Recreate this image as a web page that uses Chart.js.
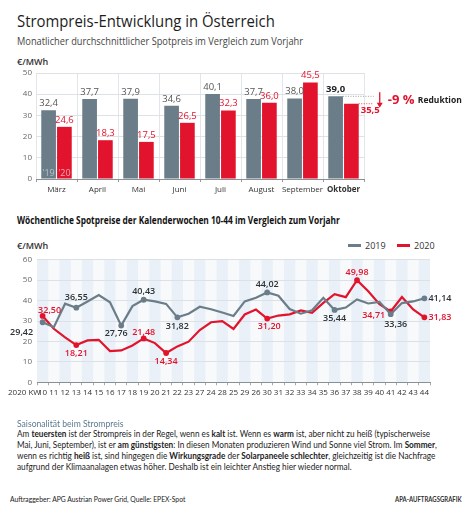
<!DOCTYPE html>
<html>
<head>
<meta charset="utf-8">
<script src="https://cdn.jsdelivr.net/npm/chart.js@4.4.0/dist/chart.umd.min.js"></script>
<style>
    body { margin: 0; background: #fff; width: 472px; height: 512px; position: relative; overflow: hidden; font-family: "Open Sans", sans-serif; color: #222; }
    .t { position: absolute; white-space: nowrap; line-height: 1; transform-origin: left center; }
    canvas { position: absolute; left: 0; }
    #bars { top: 64px; }
    #lines { top: 250px; }
    .leg { position: absolute; top: 241px; font-size: 9px; color: #333; line-height: 10px; }
    .leg i { display: inline-block; width: 13px; height: 3px; vertical-align: middle; margin-right: 4px; position: relative; top: -1px; }
    .p { position: absolute; left: 17px; font-family: Lato, sans-serif; font-size: 8.6px; line-height: 11px; color: #222; white-space: nowrap; transform-origin: left center; }
</style>
</head>
<body>

<div class="t" data-w="258" style="left:17px;top:12px;font-size:17px;color:#1d1d1d;">Strompreis-Entwicklung in Österreich</div>
<div class="t" data-w="286" style="left:17px;top:35px;font-size:11px;color:#444;">Monatlicher durchschnittlicher Spotpreis im Vergleich zum Vorjahr</div>
<div class="t" style="left:17px;top:57px;font-size:9px;font-weight:600;color:#333;">€/MWh</div>

<canvas id="bars" width="472" height="136"></canvas>

<div class="t" data-w="323" style="left:17px;top:215px;font-size:10px;font-weight:700;color:#111;">Wöchentliche Spotpreise der Kalenderwochen 10-44 im Vergleich zum Vorjahr</div>
<div class="t" style="left:17px;top:241px;font-size:9px;font-weight:600;color:#333;">€/MWh</div>
<div class="leg" style="left:348px;"><i style="background:#6b7d88"></i>2019</div>
<div class="leg" style="left:397px;"><i style="background:#e2132c"></i>2020</div>

<canvas id="lines" width="472" height="162"></canvas>
<div class="t" style="left:8px;top:388px;font-size:8px;color:#333;">2020 KW</div>

<div class="t" data-w="106" style="left:17px;top:420px;font-family:Lato,sans-serif;font-size:8.6px;color:#5b7a90;">Saisonalität beim Strompreis</div>
<div class="p" data-w="413" style="top:429px;">Am <b>teuersten</b> ist der Strompreis in der Regel, wenn es <b>kalt</b> ist. Wenn es <b>warm</b> ist, aber nicht zu heiß (typischerweise</div>
<div class="p" data-w="420" style="top:440px;">Mai, Juni, September), ist er <b>am günstigsten</b>: In diesen Monaten produzieren Wind und Sonne viel Strom. Im <b>Sommer</b>,</div>
<div class="p" data-w="418" style="top:451px;">wenn es richtig <b>heiß</b> ist, sind hingegen die <b>Wirkungsgrade</b> der <b>Solarpaneele schlechter</b>, gleichzeitig ist die Nachfrage</div>
<div class="p" data-w="335" style="top:462px;">aufgrund der Klimaanalagen etwas höher. Deshalb ist ein leichter Anstieg hier wieder normal.</div>

<div class="t" data-w="175" style="left:10px;top:496px;font-family:Lato,sans-serif;font-size:6.8px;color:#222;">Auftraggeber: APG Austrian Power Grid, Quelle: EPEX-Spot</div>
<div class="t" data-w="67" style="left:395px;top:496px;font-family:Lato,sans-serif;font-size:6.8px;font-weight:700;color:#333;">APA-AUFTRAGSGRAFIK</div>

<script>
// ---------------------------------------------------------------
// Daten
// ---------------------------------------------------------------
const monate = ["März", "April", "Mai", "Juni", "Juli", "August", "September", "Oktober"];
const monat2019 = [32.4, 37.7, 37.9, 34.6, 40.1, 37.7, 38.0, 39.0];
const monat2020 = [24.6, 18.3, 17.5, 26.5, 32.3, 36.0, 45.5, 35.5];
const monatTicks = [0, 10, 20, 30, 40, 50];

// KW-Beschriftung wie im Original (Reihenfolge 27/24/28/25/29/26 so übernommen)
const wochen = ["10", "11", "12", "13", "14", "15", "16", "17", "18", "19", "20", "21", "22", "23",
    "27", "24", "28", "25", "29", "26", "30", "31", "32", "33", "34", "35", "36", "37", "38", "39",
    "40", "41", "42", "43", "44"];
const spot2019 = [29.42, 27.0, 38.5, 36.55, 39.6, 42.7, 39.2, 27.76, 37.3, 40.43, 39.6, 38.4, 31.82, 33.6,
    37.0, 35.8, 34.2, 32.5, 39.6, 41.4, 44.02, 42.4, 35.9, 33.6, 35.3, 41.4, 35.44, 36.6, 40.6, 38.6,
    39.4, 33.36, 38.8, 39.6, 41.14];
const spot2020 = [32.50, 26.2, 22.0, 18.21, 20.5, 20.8, 15.3, 15.6, 18.0, 21.48, 19.2, 14.34, 17.6, 19.9,
    25.6, 29.4, 30.0, 26.1, 33.2, 35.6, 31.20, 32.7, 33.3, 35.2, 34.0, 38.9, 43.2, 41.7, 49.98, 44.6,
    38.3, 34.71, 41.8, 35.7, 31.83];
const wochenTicks = [0, 10, 20, 30, 40, 50, 60];

// beschriftete Punkte: index -> [dx, dy, align]
const marken2019 = { 0: [-21, 10, "center"], 3: [0, -10, "center"], 7: [-5, 8, "center"], 9: [0, -8, "center"],
    12: [0, 9, "center"], 20: [0, -8, "center"], 26: [0, 8, "center"], 31: [5, 10, "center"], 34: [4, 0, "left"] };
const marken2020 = { 0: [7, -6, "center"], 3: [0, 8, "center"], 9: [0, -6, "center"], 11: [0, 8, "center"],
    20: [2, 8, "center"], 28: [0, -8, "center"], 31: [-17, 4, "center"], 34: [4, 0, "left"] };

const GRAU = "#6b7d88";
const ROT = "#e2132c";

Chart.defaults.font.family = "'Open Sans', sans-serif";
Chart.defaults.color = "#444";

const komma = (v, d) => v.toFixed(d).replace(".", ",");

// ---------------------------------------------------------------
// 1) Balken: Werte, Jahreskürzel und Reduktion
// ---------------------------------------------------------------
const balkenText = {
    id: "balkenText",
    afterDatasetsDraw(chart) {
        const ctx = chart.ctx;
        const y = chart.scales.y;
        const last = monate.length - 1;
        ctx.save();
        chart.data.datasets.forEach((ds, di) => {
            chart.getDatasetMeta(di).data.forEach((bar, i) => {
                const bold = i === last;
                ctx.font = (bold ? "700 " : "400 ") + "9.5px 'Open Sans'";
                ctx.fillStyle = di === 0 ? (bold ? "#222" : "#555") : ROT;
                if (di === 1 && bold) {
                    ctx.textAlign = "left";
                    ctx.textBaseline = "middle";
                    ctx.fillText(komma(ds.data[i], 1), bar.x + bar.width / 2 + 2, bar.y + 7);
                } else {
                    ctx.textAlign = "center";
                    ctx.textBaseline = "bottom";
                    ctx.fillText(komma(ds.data[i], 1), bar.x, bar.y - 2);
                }
            });
        });

        // '19 / '20 im ersten Balkenpaar
        const m0 = chart.getDatasetMeta(0).data[0];
        const m1 = chart.getDatasetMeta(1).data[0];
        ctx.font = "400 9px 'Open Sans'";
        ctx.textAlign = "center";
        ctx.textBaseline = "bottom";
        ctx.fillStyle = "#b9c3ca";
        ctx.fillText("'19", m0.x, y.bottom - 1);
        ctx.fillStyle = "#f6a9b3";
        ctx.fillText("'20", m1.x, y.bottom - 1);

        // Reduktion Oktober
        const g = chart.getDatasetMeta(0).data[last];
        const r = chart.getDatasetMeta(1).data[last];
        const xEnd = r.x + r.width / 2 + 15;
        ctx.strokeStyle = "#888";
        ctx.lineWidth = 0.8;
        ctx.setLineDash([1, 1.5]);
        ctx.beginPath();
        ctx.moveTo(g.x + g.width / 2, g.y); ctx.lineTo(xEnd, g.y);
        ctx.stroke();
        ctx.strokeStyle = ROT;
        ctx.beginPath();
        ctx.moveTo(r.x + r.width / 2, r.y); ctx.lineTo(xEnd, r.y);
        ctx.stroke();
        ctx.setLineDash([]);

        const ax = xEnd + 6;
        ctx.strokeStyle = ROT;
        ctx.fillStyle = ROT;
        ctx.lineWidth = 1.3;
        ctx.beginPath();
        ctx.moveTo(ax, g.y - 4); ctx.lineTo(ax, r.y);
        ctx.stroke();
        ctx.beginPath();
        ctx.moveTo(ax - 3, r.y - 1); ctx.lineTo(ax + 3, r.y - 1); ctx.lineTo(ax, r.y + 4);
        ctx.closePath(); ctx.fill();

        const ty = (g.y + r.y) / 2;
        ctx.textAlign = "left";
        ctx.textBaseline = "middle";
        ctx.font = "700 13px 'Open Sans'";
        ctx.fillText("-9 %", ax + 8, ty);
        const w = ctx.measureText("-9 % ").width;
        ctx.fillStyle = "#222";
        ctx.font = "700 8.5px 'Open Sans'";
        ctx.fillText("Reduktion", ax + 8 + w, ty + 0.5);
        ctx.restore();
    }
};

new Chart(document.getElementById("bars"), {
    type: "bar",
    data: {
        labels: monate,
        datasets: [
            { label: "2019", data: monat2019, backgroundColor: GRAU },
            { label: "2020", data: monat2020, backgroundColor: ROT }
        ]
    },
    options: {
        responsive: false,
        animation: false,
        layout: { padding: { left: 0, right: 108, top: 9, bottom: 0 } },
        datasets: { bar: { categoryPercentage: 0.77, barPercentage: 0.93 } },
        plugins: { legend: { display: false }, tooltip: { enabled: false } },
        scales: {
            x: {
                grid: { color: "#e1e6ea", tickColor: "#999", tickLength: 3 },
                border: { color: "#8a8f94" },
                ticks: {
                    color: "#333",
                    padding: 3,
                    autoSkip: false,
                    maxRotation: 0,
                    minRotation: 0,
                    font: c => ({ size: 8, weight: c.index === monate.length - 1 ? "700" : "400" })
                },
                afterFit(s) { s.height = 21; }
            },
            y: {
                min: 0,
                max: 50,
                afterBuildTicks(s) { s.ticks = [0, 5, 10, 15, 20, 25, 30, 35, 40, 45, 50].map(v => ({ value: v })); },
                ticks: {
                    color: "#666",
                    padding: 4,
                    font: { size: 8 },
                    callback: v => monatTicks.includes(v) ? v : ""
                },
                grid: { drawTicks: false, color: c => c.tick && c.tick.value % 10 === 0 ? "#dde2e6" : "#eef1f3" },
                border: { display: false },
                afterFit(s) { s.width = 36; }
            }
        }
    },
    plugins: [balkenText]
});

// ---------------------------------------------------------------
// 2) Linien: Streifen und Punktbeschriftung
// ---------------------------------------------------------------
const streifen = {
    id: "streifen",
    beforeDraw(chart) {
        const { ctx, chartArea, scales } = chart;
        const w = scales.x.getPixelForValue(1) - scales.x.getPixelForValue(0);
        ctx.save();
        ctx.fillStyle = "#f7f9fb";
        ctx.fillRect(chartArea.left, chartArea.top, chartArea.right - chartArea.left, chartArea.bottom - chartArea.top);
        ctx.fillStyle = "#e9f0f7";
        wochen.forEach((k, i) => {
            if (i % 2 === 0) {
                const x = scales.x.getPixelForValue(i);
                ctx.fillRect(x - w / 2, chartArea.top, w, chartArea.bottom - chartArea.top);
            }
        });
        ctx.restore();
    }
};

const linienText = {
    id: "linienText",
    afterDatasetsDraw(chart) {
        const ctx = chart.ctx;
        const marken = [marken2019, marken2020];
        ctx.save();
        ctx.font = "600 9px 'Open Sans'";
        ctx.textBaseline = "middle";
        chart.data.datasets.forEach((ds, di) => {
            const pts = chart.getDatasetMeta(di).data;
            ctx.fillStyle = di === 0 ? "#2b3338" : ROT;
            Object.entries(marken[di]).forEach(([i, [dx, dy, al]]) => {
                const p = pts[i];
                ctx.textAlign = al;
                ctx.fillText(komma(ds.data[i], 2), p.x + dx, p.y + dy);
            });
        });
        ctx.restore();
    }
};

new Chart(document.getElementById("lines"), {
    type: "line",
    data: {
        labels: wochen,
        datasets: [
            {
                label: "2019", data: spot2019, borderColor: GRAU, backgroundColor: GRAU, borderWidth: 2.2,
                pointRadius: c => marken2019[c.dataIndex] ? 1.8 : 0, tension: 0
            },
            {
                label: "2020", data: spot2020, borderColor: ROT, backgroundColor: ROT, borderWidth: 2.2,
                pointRadius: c => marken2020[c.dataIndex] ? 1.8 : 0, tension: 0
            }
        ]
    },
    options: {
        responsive: false,
        animation: false,
        layout: { padding: { left: 0, right: 42, top: 9, bottom: 0 } },
        plugins: { legend: { display: false }, tooltip: { enabled: false } },
        scales: {
            x: {
                offset: true,
                grid: { offset: true, drawOnChartArea: false, tickColor: "#aaa", tickLength: 3 },
                border: { color: "#8a8f94" },
                ticks: { color: "#333", padding: 3, font: { size: 8 }, autoSkip: false, maxRotation: 0 },
                afterFit(s) { s.height = 29.7; }
            },
            y: {
                min: 0,
                max: 60,
                afterBuildTicks(s) { s.ticks = [0, 5, 10, 15, 20, 25, 30, 35, 40, 45, 50, 55, 60].map(v => ({ value: v })); },
                ticks: {
                    color: "#666",
                    padding: 5,
                    font: { size: 8 },
                    callback: v => wochenTicks.includes(v) ? v : ""
                },
                grid: { drawTicks: false, color: c => c.tick && c.tick.value % 10 === 0 ? "#dbe1e6" : "#e8ecef" },
                border: { display: false },
                afterFit(s) { s.width = 37; }
            }
        }
    },
    plugins: [streifen, linienText]
});

// Textbreiten an die Vorlage anpassen
document.querySelectorAll("[data-w]").forEach(el => {
    const k = Number(el.dataset.w) / el.offsetWidth;
    el.style.transform = "scaleX(" + k.toFixed(3) + ")";
});
</script>
</body>
</html>
